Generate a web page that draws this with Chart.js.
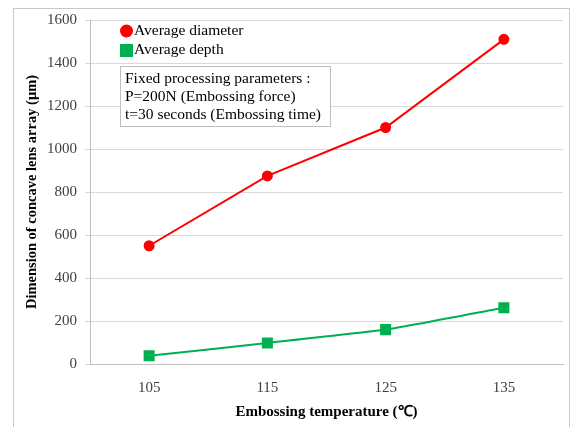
<!DOCTYPE html>
<html><head><meta charset="utf-8">
<script src="https://cdn.jsdelivr.net/npm/chart.js@4/dist/chart.umd.min.js"></script>
<style>html,body{margin:0;padding:0;background:#fff}#wrap{width:573px;height:427px;position:relative}</style>
</head><body><div id="wrap"><canvas id="c" width="573" height="427"></canvas></div>
<script>
const categories = ['105', '115', '125', '135'];
const diameter = [550, 875, 1100, 1510];
const depth = [38, 98, 160, 262];
const seriesNames = ['Average diameter', 'Average depth'];
const yTicks = [0, 200, 400, 600, 800, 1000, 1200, 1400, 1600];
const noteLines = ['Fixed processing parameters :', 'P=200N (Embossing force)', 't=30 seconds (Embossing time)'];
const xTitle = 'Embossing temperature (\u2103)';
const yTitle = 'Dimension of concave lens array (\u03bcm)';

const SERIF = '"Liberation Serif", "Times New Roman", serif';

const decor = {
  id: 'decor',
  beforeDraw(chart) {
    const ctx = chart.ctx;
    ctx.save();
    ctx.strokeStyle = '#c8c8c8';
    ctx.lineWidth = 1;
    ctx.strokeRect(13.5, 8.5, 556, 430);
    ctx.restore();
  },
  afterDraw(chart) {
    const ctx = chart.ctx;
    ctx.save();
    const ds = chart.data.datasets;
    ctx.font = '15.5px ' + SERIF;
    ctx.textBaseline = 'middle';
    ctx.fillStyle = ds[0].borderColor;
    ctx.beginPath(); ctx.arc(126.5, 31, 6.5, 0, Math.PI * 2); ctx.fill();
    ctx.fillStyle = ds[1].borderColor;
    ctx.fillRect(120, 44, 13, 13);
    ctx.fillStyle = '#000';
    ctx.fillText(ds[0].label, 134, 31);
    ctx.fillText(ds[1].label, 134, 50);
    ctx.fillStyle = '#fff';
    ctx.fillRect(120, 66, 210, 60);
    ctx.strokeStyle = '#bfbfbf';
    ctx.strokeRect(120.5, 66.5, 210, 60);
    ctx.fillStyle = '#000';
    noteLines.forEach((t, i) => ctx.fillText(t, 125, 79 + i * 18));
    ctx.restore();
  }
};

new Chart(document.getElementById('c'), {
  type: 'line',
  data: {
    labels: categories,
    datasets: [
      { label: seriesNames[0], data: diameter, borderColor: '#ff0000', backgroundColor: '#ff0000',
        borderWidth: 2, pointStyle: 'circle', pointRadius: 4.5, pointHoverRadius: 4.5, tension: 0 },
      { label: seriesNames[1], data: depth, borderColor: '#00b050', backgroundColor: '#00b050',
        borderWidth: 2, pointStyle: 'rect', pointRadius: 6.4, pointHoverRadius: 6.4, tension: 0.15 }
    ]
  },
  options: {
    responsive: false,
    animation: false,
    devicePixelRatio: 1,
    layout: { padding: { left: 14, right: 10, top: 20, bottom: 0 } },
    plugins: { legend: { display: false }, tooltip: { enabled: false } },
    scales: {
      x: {
        offset: true,
        grid: { display: false, drawTicks: false },
        border: { display: true, color: '#bfbfbf', width: 1 },
        ticks: { font: { family: SERIF, size: 15 }, color: '#404040', padding: 15 },
        title: { display: true, text: xTitle, font: { family: SERIF, size: 15, weight: 'bold' }, color: '#000', padding: { top: 4, bottom: 6 } },
        afterFit(s) { s.height = 63; }
      },
      y: {
        min: 0, max: 1600,
        afterBuildTicks(s) { s.ticks = yTicks.map(v => ({ value: v })); },
        grid: { color: '#d9d9d9', lineWidth: 1, tickLength: 5, drawTicks: true },
        border: { display: true, color: '#bfbfbf', width: 1 },
        ticks: { font: { family: SERIF, size: 15 }, color: '#404040', padding: 8, callback: v => String(v) },
        title: { display: true, text: yTitle, font: { family: SERIF, size: 14.5, weight: 'bold' }, color: '#000', padding: { top: 10, bottom: 0 } },
        afterFit(s) { s.width = 76; }
      }
    }
  },
  plugins: [decor]
});
</script></body></html>
